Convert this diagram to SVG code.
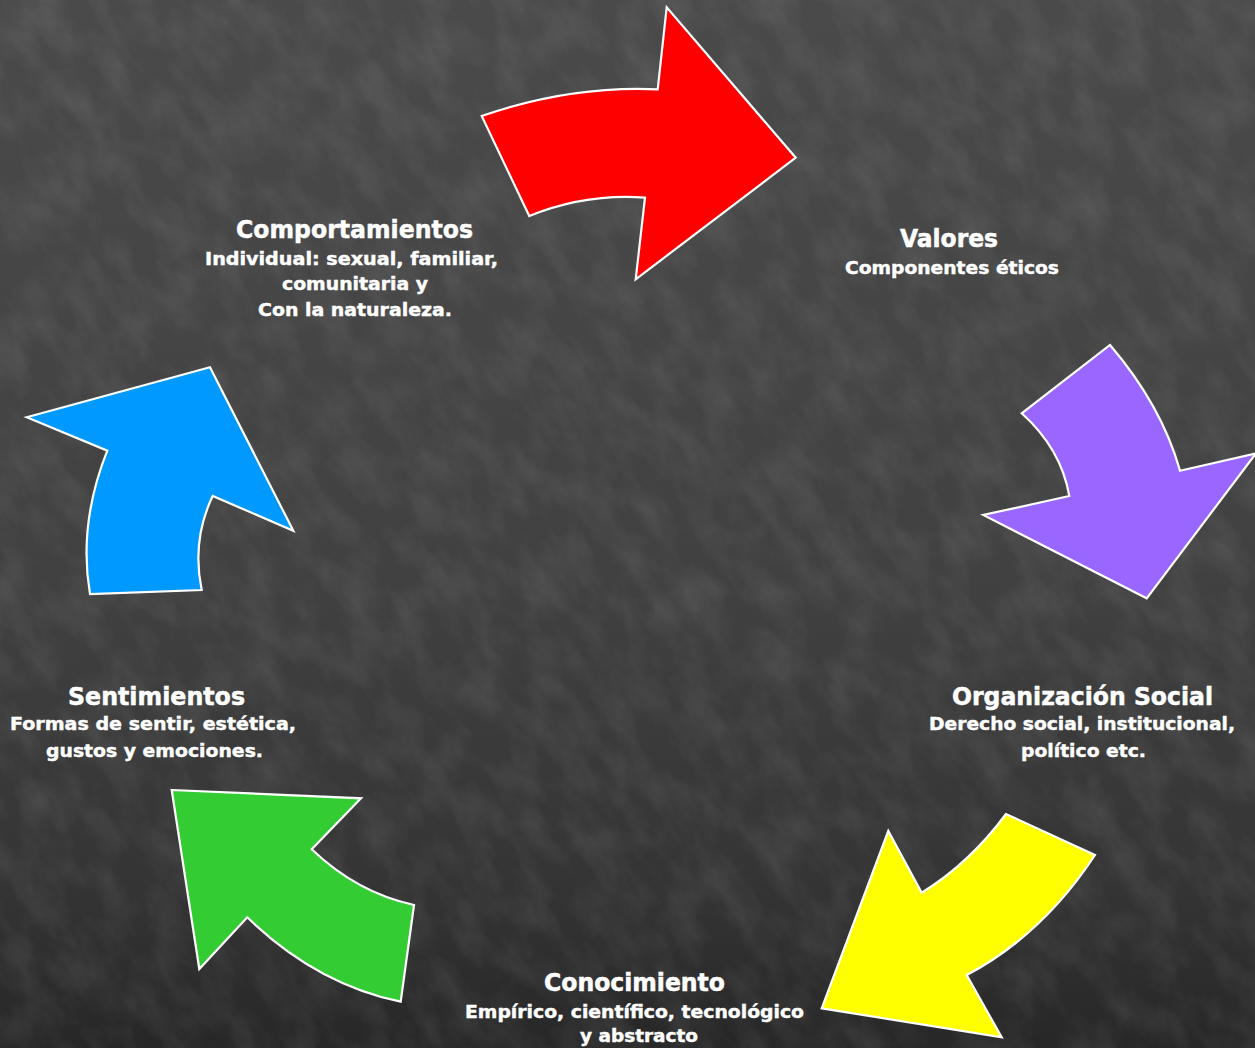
<svg xmlns="http://www.w3.org/2000/svg" width="1255" height="1048" viewBox="0 0 1255 1048">
  <style>
    .arrow { stroke: #ffffff; stroke-width: 2.2; stroke-linejoin: miter; }
    .title { font-family: "DejaVu Sans", "Liberation Sans", sans-serif; font-weight: bold; font-size: 24px; fill: #ffffff; stroke: #ffffff; stroke-width: 0.5; }
    .sub { font-family: "DejaVu Sans", "Liberation Sans", sans-serif; font-weight: bold; font-size: 18px; fill: #ffffff; stroke: #ffffff; stroke-width: 0.45; }
  </style>
  <defs>
    <linearGradient id="bg" x1="0" y1="0" x2="0" y2="1">
      <stop offset="0" stop-color="#4a4a4a"/>
      <stop offset="0.55" stop-color="#414141"/>
      <stop offset="0.85" stop-color="#343434"/>
      <stop offset="1" stop-color="#272727"/>
    </linearGradient>
    <filter id="tex" x="0" y="0" width="100%" height="100%">
      <feTurbulence type="fractalNoise" baseFrequency="0.035 0.02" numOctaves="4" seed="7" result="n"/>
      <feColorMatrix in="n" type="matrix" values="0 0 0 0 1  0 0 0 0 1  0 0 0 0 1  0 0 0 -1.6 1.05"/>
    </filter>
  </defs>

  <rect x="0" y="0" width="1255" height="1048" fill="url(#bg)"/>
  <g transform="rotate(-35 627 524)" opacity="0.09">
    <rect x="-500" y="-500" width="2255" height="2048" filter="url(#tex)"/>
  </g>

  <g id="connectors">
    <path id="arrow-red" class="arrow" fill="#ff0000" d="M481.7,116 Q570.3,85.3 657.7,89.3 L666.7,7.3 L795.7,157.7 L635.7,279.3 L645,197.7 Q586.2,193.2 529.3,216 Z"/>
    <path id="arrow-purple" class="arrow" fill="#9966ff" d="M1110,345 Q1161.7,405.5 1180,470.7 L1256,453.3 L1146.7,598.3 L983.3,515 L1069.3,496 Q1061,448.7 1021.7,413.3 Z"/>
    <path id="arrow-yellow" class="arrow" fill="#ffff00" d="M1095,855 L1006,814 Q969.5,863.3 921.7,892.7 L888.3,831 L821.7,1008.3 L1001.7,1037.3 L966.7,975 Q1042.5,935 1095,855 Z"/>
    <path id="arrow-green" class="arrow" fill="#33cc33" d="M171.7,790 L361,798.3 L311.7,849.3 Q357.2,892.8 414,905 L400.7,1001.7 Q316,984 247.3,917.3 L199.3,969 Z"/>
    <path id="arrow-blue" class="arrow" fill="#0099ff" d="M26.7,417.3 L210,367.3 L293.3,530.7 L212.7,496 Q191.4,540.4 201.7,590 L90,594 Q78,524.3 107.3,450.7 Z"/>
  </g>

  <g id="comportamientos">
    <text class="title" x="236" y="238" textLength="237" lengthAdjust="spacingAndGlyphs">Comportamientos</text>
    <text class="sub" x="205" y="265" textLength="293" lengthAdjust="spacingAndGlyphs">Individual: sexual, familiar,</text>
    <text class="sub" x="282" y="290" textLength="146" lengthAdjust="spacingAndGlyphs">comunitaria y</text>
    <text class="sub" x="258" y="316" textLength="194" lengthAdjust="spacingAndGlyphs">Con la naturaleza.</text>
  </g>

  <g id="valores">
    <text class="title" x="900" y="247" textLength="98" lengthAdjust="spacingAndGlyphs">Valores</text>
    <text class="sub" x="845" y="274" textLength="214" lengthAdjust="spacingAndGlyphs">Componentes éticos</text>
  </g>

  <g id="organizacion">
    <text class="title" x="952" y="705" textLength="261" lengthAdjust="spacingAndGlyphs">Organización Social</text>
    <text class="sub" x="929" y="730" textLength="306" lengthAdjust="spacingAndGlyphs">Derecho social, institucional,</text>
    <text class="sub" x="1021" y="757" textLength="125" lengthAdjust="spacingAndGlyphs">político etc.</text>
  </g>

  <g id="conocimiento">
    <text class="title" x="544" y="991" textLength="181" lengthAdjust="spacingAndGlyphs">Conocimiento</text>
    <text class="sub" x="465" y="1018" textLength="339" lengthAdjust="spacingAndGlyphs">Empírico, científico, tecnológico</text>
    <text class="sub" x="580" y="1042" textLength="118" lengthAdjust="spacingAndGlyphs">y abstracto</text>
  </g>

  <g id="sentimientos">
    <text class="title" x="68" y="705" textLength="177" lengthAdjust="spacingAndGlyphs">Sentimientos</text>
    <text class="sub" x="10" y="730" textLength="286" lengthAdjust="spacingAndGlyphs">Formas de sentir, estética,</text>
    <text class="sub" x="46" y="757" textLength="217" lengthAdjust="spacingAndGlyphs">gustos y emociones.</text>
  </g>
</svg>
